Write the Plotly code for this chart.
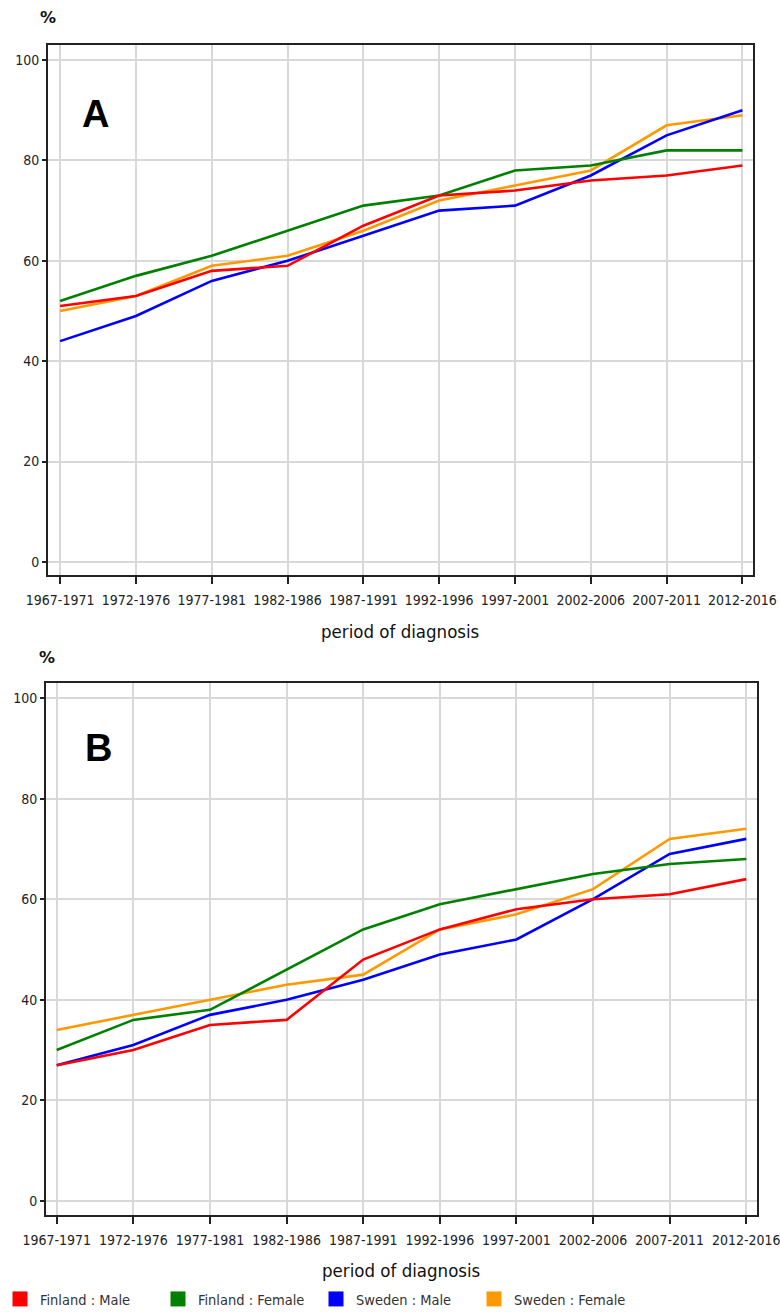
import plotly.graph_objects as go

W, H = 780, 1312

periods = ["1967-1971", "1972-1976", "1977-1981", "1982-1986", "1987-1991",
           "1992-1996", "1997-2001", "2002-2006", "2007-2011", "2012-2016"]

series_names = ["Finland : Male", "Finland : Female", "Sweden : Male", "Sweden : Female"]
series_colors = ["#ff0000", "#008000", "#0000ff", "#ff9900"]

# Panel A
a_fin_male = [51, 53, 58, 59, 67, 73, 74, 76, 77, 79]
a_fin_female = [52, 57, 61, 66, 71, 73, 78, 79, 82, 82]
a_swe_male = [44, 49, 56, 60, 65, 70, 71, 77, 85, 90]
a_swe_female = [50, 53, 59, 61, 66, 72, 75, 78, 87, 89]

# Panel B
b_fin_male = [27, 30, 35, 36, 48, 54, 58, 60, 61, 64]
b_fin_female = [30, 36, 38, 46, 54, 59, 62, 65, 67, 68]
b_swe_male = [27, 31, 37, 40, 44, 49, 52, 60, 69, 72]
b_swe_female = [34, 37, 40, 43, 45, 54, 57, 62, 72, 74]

y_ticks = [0, 20, 40, 60, 80, 100]
x_title = "period of diagnosis"

panel_a = [a_fin_male, a_fin_female, a_swe_male, a_swe_female]
panel_b = [b_fin_male, b_fin_female, b_swe_male, b_swe_female]

draw_order = [3, 2, 1, 0]

fig = go.Figure()

for idx in draw_order:
    fig.add_trace(go.Scatter(x=periods, y=panel_a[idx], mode="lines",
                             line=dict(color=series_colors[idx], width=2.6),
                             showlegend=False, xaxis="x", yaxis="y"))
for idx in draw_order:
    fig.add_trace(go.Scatter(x=periods, y=panel_b[idx], mode="lines",
                             line=dict(color=series_colors[idx], width=2.6),
                             showlegend=False, xaxis="x2", yaxis="y2"))
# legend entries (square swatches)
for name, col in zip(series_names, series_colors):
    fig.add_trace(go.Scatter(x=[None], y=[None], mode="markers", name=name,
                             marker=dict(symbol="square", size=15, color=col),
                             xaxis="x2", yaxis="y2"))

def px_x(v):
    return v / W

def px_y(v):
    return 1 - v / H

FONT = "DejaVu Sans Condensed, DejaVu Sans"
tick_font = dict(family=FONT, size=14, color="#222222")

common_x = dict(type="category", showgrid=True, gridcolor="#d8d8d8", gridwidth=1.5,
                showline=True, linecolor="#222222", linewidth=2, mirror=True,
                ticks="outside", ticklen=7, tickwidth=2, tickcolor="#222222",
                tickfont=tick_font, zeroline=False, ticklabelstandoff=4,
                automargin=False)
common_y = dict(showgrid=True, gridcolor="#d8d8d8", gridwidth=1.5,
                showline=True, linecolor="#222222", linewidth=2, mirror=True,
                ticks="outside", ticklen=4, tickwidth=2, tickcolor="#222222",
                tickfont=tick_font, zeroline=False, tickvals=y_ticks,
                ticklabelstandoff=0, automargin=False)

fig.update_layout(
    width=W, height=H,
    margin=dict(l=0, r=0, t=0, b=0, autoexpand=False),
    paper_bgcolor="white", plot_bgcolor="white",
    xaxis=dict(common_x, domain=[px_x(48), px_x(753)], range=[-0.16, 9.14], anchor="y"),
    yaxis=dict(common_y, domain=[px_y(575), px_y(45)], range=[-2.6, 103], anchor="x"),
    xaxis2=dict(common_x, domain=[px_x(46), px_x(757)], range=[-0.14, 9.14], anchor="y2"),
    yaxis2=dict(common_y, domain=[px_y(1215), px_y(683)], range=[-2.8, 103], anchor="x2"),
    legend=dict(orientation="h", xref="container", yref="container",
                x=0, xanchor="left", y=px_y(1283), yanchor="top",
                font=dict(family=FONT, size=14.5, color="#333333"),
                entrywidth=113, entrywidthmode="pixels", itemwidth=30,
                bgcolor="rgba(0,0,0,0)"),
)

ann_font_title = dict(family=FONT, size=18.5, color="#111111")

def label(text, x, y, font):
    return dict(text=text, x=px_x(x), y=px_y(y), xref="paper", yref="paper",
                showarrow=False, font=font, xanchor="center", yanchor="middle")

annotations = [
    label(x_title, 400, 631, ann_font_title),
    label(x_title, 401, 1270, ann_font_title),
    label("<b>%</b>", 48, 18, dict(family="DejaVu Sans", size=16, color="#111111")),
    label("<b>%</b>", 47, 657, dict(family="DejaVu Sans", size=16, color="#111111")),
    label("<b>A</b>", 95, 114, dict(family="Liberation Sans", size=38, color="#000000")),
    label("<b>B</b>", 98, 748, dict(family="Liberation Sans", size=38, color="#000000")),
]
fig.update_layout(annotations=annotations)

fig.write_html("out.html", config={"displayModeBar": False},
               post_script="document.body.style.margin='0px';document.body.style.overflow='hidden';")
